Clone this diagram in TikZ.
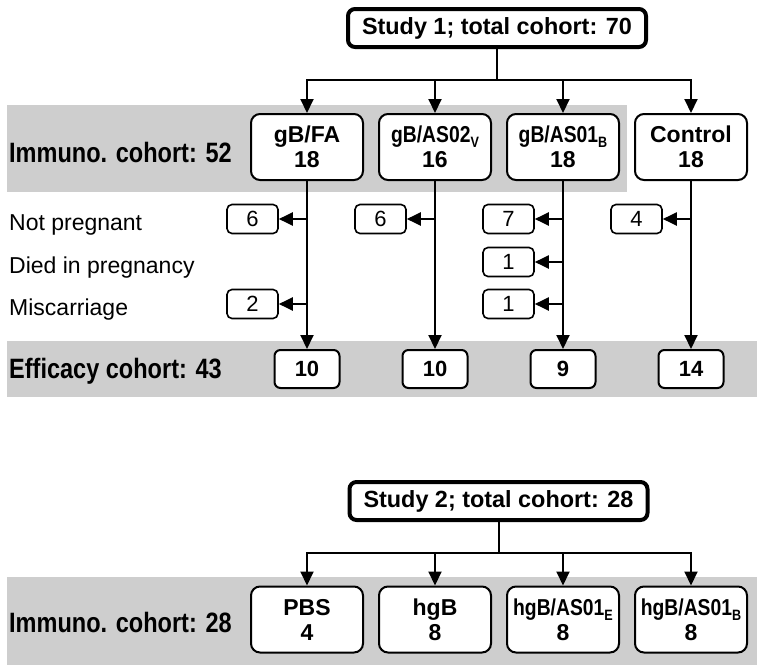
\documentclass[tikz,border=0pt]{standalone}
\usepackage{fontspec}
\setmainfont{Liberation Sans}
\newfontfamily\cohortfont{Liberation Sans}[FakeStretch=0.84]
\newfontfamily\boxnarrow{Liberation Sans}[FakeStretch=0.84]
\usetikzlibrary{arrows.meta}
\definecolor{band}{RGB}{206,206,206}
\newcommand\subx[1]{\raisebox{-0.22em}{\fontsize{15}{15}\selectfont #1}}
\begin{document}
\begin{tikzpicture}[x=1pt,y=-1pt,
  study/.style={draw, line width=4pt, rounded corners=7pt, fill=white,
    minimum width=298pt, minimum height=38pt, inner sep=0pt,
    font=\fontsize{23.4}{26}\selectfont\bfseries},
  grp/.style={draw, line width=2pt, rounded corners=9pt, fill=white,
    minimum width=112pt, minimum height=66pt, inner sep=0pt, align=center,
    font=\fontsize{23}{25}\selectfont\bfseries},
  eff/.style={draw, line width=2pt, rounded corners=6pt, fill=white,
    minimum width=65pt, minimum height=38pt, inner sep=0pt,
    font=\fontsize{22}{25}\selectfont\bfseries},
  small/.style={draw, line width=1.6pt, rounded corners=5pt, fill=white,
    minimum width=51pt, minimum height=29pt, inner sep=0pt,
    font=\fontsize{22}{24}\selectfont},
  rowlabel/.style={anchor=base west, inner sep=0pt, font=\fontsize{23}{26}\selectfont},
  cohort/.style={anchor=base west, inner sep=0pt, font=\fontsize{28}{30}\selectfont\cohortfont\bfseries},
  conn/.style={line width=2pt},
  arr/.style={line width=2pt, -{Triangle[length=14pt,width=13pt]}}
]
\fill[white] (0,0) rectangle (764,672);
\useasboundingbox (0,0) rectangle (764,672);
% bands
\fill[band] (7,105) rectangle (627,192);
\fill[band] (7,341) rectangle (757,397);
\fill[band] (7,577) rectangle (757,665);

% ---- Study 1
\node[study] (s1) at (497,28) {Study 1; total cohort: 70};
\node[cohort] (ic1) at (9,162) {Immuno. cohort: 52};
\node[grp] (a1) at (307,147) {gB/FA\\18};
\node[grp] (a2) at (435,147) {{\boxnarrow gB/AS02\subx{V}}\\16};
\node[grp] (a3) at (563,147) {{\boxnarrow gB/AS01\subx{B}}\\18};
\node[grp] (a4) at (691,147) {Control\\18};

\node[rowlabel] (l1) at (9,230) {Not pregnant};
\node[rowlabel] (l2) at (9,273) {Died in pregnancy};
\node[rowlabel] (l3) at (9,315) {Miscarriage};

\node[small] (n1) at (252.5,219) {6};
\node[small] (n2) at (380.5,219) {6};
\node[small] (n3) at (508.5,219) {7};
\node[small] (n4) at (636.5,219) {4};
\node[small] (d3) at (508.5,262) {1};
\node[small] (m1) at (252.5,304) {2};
\node[small] (m3) at (508.5,304) {1};

\node[cohort] (ec) at (9,378) {Efficacy cohort: 43};
\node[eff] (e1) at (307,369) {10};
\node[eff] (e2) at (435,369) {10};
\node[eff] (e3) at (563,369) {9};
\node[eff] (e4) at (691,369) {14};

\coordinate (j1) at (497,80);
\draw[conn] (s1.south) -- (j1);
\foreach \n in {a1,a2,a3,a4} \draw[arr] (j1) -| (\n.north);
\foreach \i in {1,2,3,4} \draw[arr] (a\i.south) -- (e\i.north);
\foreach \a/\b in {a1/n1,a2/n2,a3/n3,a4/n4,a3/d3,a1/m1,a3/m3}
  \draw[arr] (\a.south |- \b.east) -- (\b.east);

% ---- Study 2
\node[study] (s2) at (498.5,501) {Study 2; total cohort: 28};
\node[cohort] (ic2) at (9,632) {Immuno. cohort: 28};
\node[grp] (b1) at (307,619.5) {PBS\\4};
\node[grp] (b2) at (435,619.5) {hgB\\8};
\node[grp] (b3) at (563,619.5) {{\boxnarrow hgB/AS01\subx{E}}\\8};
\node[grp] (b4) at (691,619.5) {{\boxnarrow hgB/AS01\subx{B}}\\8};

\coordinate (j2) at (498.5,553);
\draw[conn] (s2.south) -- (j2);
\foreach \n in {b1,b2,b3,b4} \draw[arr] (j2) -| (\n.north);
\end{tikzpicture}
\end{document}
